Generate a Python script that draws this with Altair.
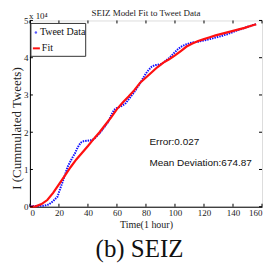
import altair as alt
import pandas as pd

# Tweet data (cumulative tweets, units of 1e4) vs time (hours)
data_t = [0, 5, 10, 13, 16, 19, 21, 23, 26, 29, 31, 33, 35, 37, 39, 41, 43, 45, 48, 51,
          54, 56, 58, 60, 62, 64, 66, 68, 70, 72, 74, 76, 78, 80, 82, 84, 86, 88, 90, 92,
          94, 96, 98, 100, 102, 104, 106, 108, 110, 112, 114, 116, 118, 120, 122, 124, 126,
          128, 130, 132, 134, 136, 138, 140, 142, 144, 146, 148, 150, 152, 154, 156]
data_y = [0.02, 0.02, 0.03, 0.06, 0.15, 0.27, 0.5, 0.72, 1.07, 1.3, 1.43, 1.6, 1.72, 1.76,
          1.77, 1.78, 1.79, 1.85, 1.97, 2.12, 2.28, 2.45, 2.6, 2.65, 2.68, 2.72, 2.78, 2.88,
          2.98, 3.08, 3.2, 3.32, 3.45, 3.58, 3.68, 3.76, 3.8, 3.81, 3.82, 3.87, 3.93, 3.99,
          4.07, 4.15, 4.23, 4.29, 4.33, 4.36, 4.39, 4.41, 4.42, 4.43, 4.45, 4.46, 4.48, 4.5,
          4.52, 4.54, 4.56, 4.58, 4.61, 4.63, 4.66, 4.69, 4.72, 4.75, 4.77, 4.8, 4.83, 4.85,
          4.88, 4.9]

# SEIZ fit
fit_t = [0, 4, 8, 12, 16, 20, 24, 28, 32, 36, 40, 44, 48, 52, 56, 60, 64, 68, 72, 76, 80,
         84, 88, 92, 96, 100, 104, 108, 112, 116, 120, 124, 128, 132, 136, 140, 144, 148,
         152, 156]
fit_y = [0.0, 0.01, 0.07, 0.18, 0.37, 0.6, 0.83, 1.06, 1.27, 1.45, 1.63, 1.82, 2.0, 2.2,
         2.4, 2.62, 2.8, 2.96, 3.13, 3.33, 3.47, 3.61, 3.75, 3.87, 3.96, 4.06, 4.18, 4.3,
         4.38, 4.45, 4.5, 4.55, 4.6, 4.64, 4.68, 4.72, 4.76, 4.8, 4.85, 4.9]

x_ticks = [0, 20, 40, 60, 80, 100, 120, 140, 160]
y_ticks = [0, 1, 2, 3, 4, 5]

W, H = 233, 187
SERIF = "Liberation Serif"
SANS = "Liberation Sans"

df_data = pd.DataFrame({"t": data_t, "y": data_y})
df_fit = pd.DataFrame({"t": fit_t, "y": fit_y})
df_xt = pd.DataFrame({"t": x_ticks})
df_yt = pd.DataFrame({"y": y_ticks})

xs = alt.Scale(domain=[0, 160], nice=False, zero=False)
ys = alt.Scale(domain=[0, 5], nice=False, zero=False)
xaxis = alt.Axis(values=x_ticks, title="Time(1 hour)", ticks=False, grid=False,
                 labelFont=SERIF, labelFontSize=9, labelPadding=2, labelColor="#222",
                 titleFont=SERIF, titleFontSize=10, titleFontWeight="normal",
                 titlePadding=2, titleColor="#222", domainColor="black")
yaxis = alt.Axis(values=y_ticks, title="I (Cummulated Tweets)", ticks=False, grid=False,
                 labelFont=SERIF, labelFontSize=9, labelPadding=2, labelColor="#222",
                 titleFont=SERIF, titleFontSize=13, titleFontWeight="normal",
                 titleColor="#222", titleX=-13, titleY=108, titleAngle=270,
                 titleAlign="center", titleBaseline="middle", domainColor="black")

X = alt.X("t:Q", scale=xs, axis=xaxis)
Y = alt.Y("y:Q", scale=ys, axis=yaxis)

tweets = alt.Chart(df_data).mark_line(color="#1010ff", strokeWidth=2,
                                      strokeDash=[1.5, 1]).encode(x=X, y=Y)
fit = alt.Chart(df_fit).mark_line(color="#ff1010", strokeWidth=2.2).encode(x=X, y=Y)

tick_b = alt.Chart(df_xt).mark_rule(color="black").encode(x=X, y=alt.value(H), y2=alt.value(H - 3))
tick_t = alt.Chart(df_xt).mark_rule(color="black").encode(x=X, y=alt.value(0), y2=alt.value(3))
tick_l = alt.Chart(df_yt).mark_rule(color="black").encode(y=Y, x=alt.value(0), x2=alt.value(3))
tick_r = alt.Chart(df_yt).mark_rule(color="black").encode(y=Y, x=alt.value(W), x2=alt.value(W - 3))

base = alt.Chart(pd.DataFrame({"k": [0]}))

legend_box = base.mark_rect(fill="white", stroke="#333", strokeWidth=1).encode(
    x=alt.value(1), x2=alt.value(56), y=alt.value(3), y2=alt.value(36))
legend_dot = base.mark_point(filled=True, color="#1010ff", size=6, shape="circle").encode(
    x=alt.value(6), y=alt.value(12))
legend_line = base.mark_rule(color="#ff1010", strokeWidth=2).encode(
    x=alt.value(3), x2=alt.value(10), y=alt.value(28))
legend_t1 = base.mark_text(text="Tweet Data", font=SERIF, fontSize=10, align="left",
                           baseline="middle", color="#111").encode(x=alt.value(10), y=alt.value(12))
legend_t2 = base.mark_text(text="Fit", font=SERIF, fontSize=10, align="left",
                           baseline="middle", color="#111").encode(x=alt.value(12), y=alt.value(28))

title = base.mark_text(text="SEIZ Model Fit to Tweet Data", font=SERIF, fontSize=9,
                       align="center", baseline="middle", color="#222").encode(
    x=alt.value(W / 2), y=alt.value(-7))
expo = base.mark_text(text="x 10⁴", font=SERIF, fontSize=9, align="left",
                      baseline="middle", color="#222").encode(x=alt.value(-1), y=alt.value(-4))
err = base.mark_text(text="Error:0.027", font=SANS, fontSize=10, align="left",
                     baseline="middle", color="#111").encode(x=alt.value(120), y=alt.value(122))
dev = base.mark_text(text="Mean Deviation:674.87", font=SANS, fontSize=10, align="left",
                     baseline="middle", color="#111").encode(x=alt.value(120), y=alt.value(143))
caption = base.mark_text(text="(b) SEIZ", font=SERIF, fontSize=25, align="center",
                         baseline="middle", color="#111").encode(x=alt.value(110), y=alt.value(229))

chart = alt.layer(
    tweets, fit, tick_b, tick_t, tick_l, tick_r,
    legend_box, legend_dot, legend_line, legend_t1, legend_t2,
    title, expo, err, dev, caption
).properties(
    width=W, height=H,
    autosize=alt.AutoSizeParams(type="none"),
    padding={"left": 22, "top": 12, "right": 4, "bottom": 62},
).configure_view(stroke="black", strokeWidth=1).configure(background="white")

chart.save("out.html", embed_options={"renderer": "svg", "actions": False})
